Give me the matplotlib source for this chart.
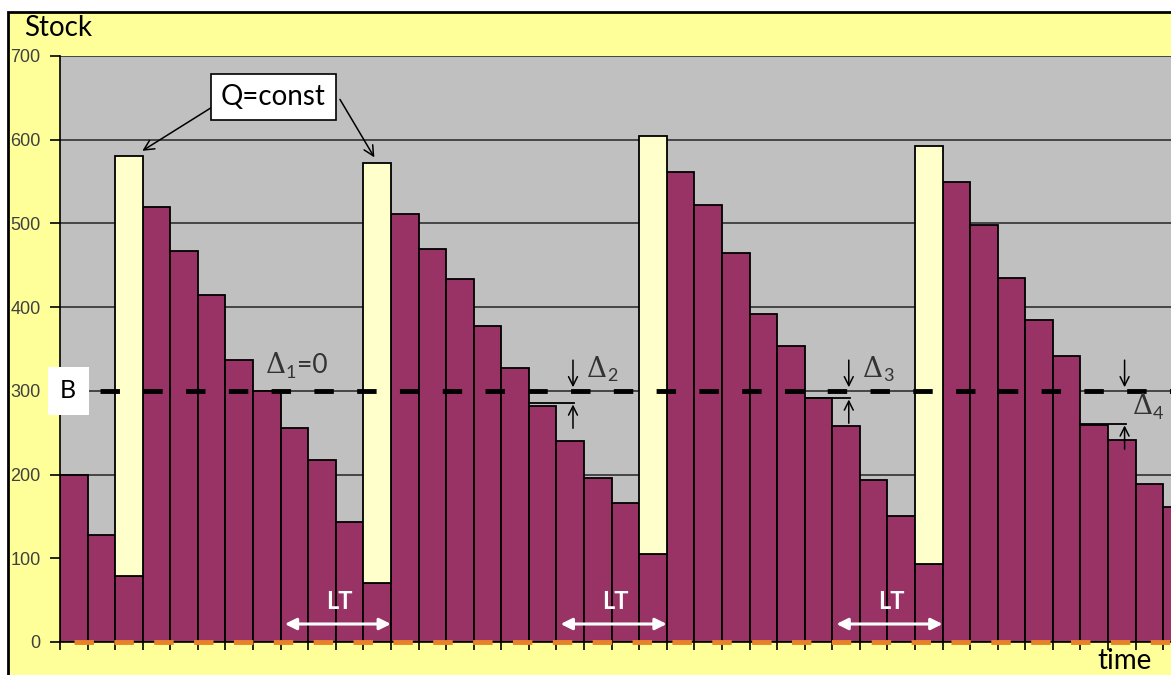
import numpy as np
import matplotlib.pyplot as plt
from matplotlib.patches import Rectangle

# stock level per period (maroon bars)
stock = [200, 128, 79, 520, 467, 414, 337, 300, 256, 217, 143,
         71, 511, 470, 434, 377, 327, 282, 240, 196, 166,
         105, 562, 522, 465, 392, 354, 291, 258, 194, 151,
         93, 549, 498, 435, 385, 342, 259, 241, 189, 161]
# periods where an order of size Q arrives (yellow part on top)
order_idx = [2, 11, 21, 31]
order_top = [581, 572, 605, 593]
base_level = 300  # B
# deltas: (period, level the bar ended at)
delta_idx = [17, 27, 37]
delta_level = [285, 291, 260]

W, H = 1171, 675
fig = plt.figure(figsize=(W / 100, H / 100), dpi=100, facecolor='white')
fig.patches.append(Rectangle((8 / W, -0.1), 1.2, 1.1 - 12 / H, transform=fig.transFigure,
                             facecolor='#FFFF99', edgecolor='black', lw=2, zorder=-10))

n = len(stock)
bw = 27.58
ax = fig.add_axes([60 / W, 33 / H, 41 * bw / W, 586 / H])
ax.set_facecolor('#C0C0C0')
x = np.arange(n)

ax.bar(x, stock, width=1, color='#993366', edgecolor='black', lw=1.3, zorder=2)
ax.bar(order_idx, np.array(order_top) - np.array([stock[i] for i in order_idx]),
       bottom=[stock[i] for i in order_idx], width=1, color='#FFFFCC',
       edgecolor='black', lw=1.3, zorder=2)

ax.set_xlim(-0.5, 40.5)
ax.set_ylim(0, 700)
ax.set_yticks(range(0, 701, 100))
ax.set_xticks(np.arange(-0.5, 41, 1))
ax.set_xticklabels([])
ax.yaxis.grid(True, color='#303030', lw=1.2, zorder=1)
ax.set_axisbelow(True)
ax.tick_params(axis='y', direction='out', length=7, width=1.2, labelsize=13,
               labelcolor='#404040', pad=7)
for lab in ax.get_yticklabels():
    lab.set_family('Liberation Sans')
ax.tick_params(axis='x', direction='out', length=6, width=1.2)
for s in ['top', 'right']:
    ax.spines[s].set_visible(False)
ax.spines['left'].set_linewidth(1.2)
ax.spines['bottom'].set_linewidth(1.2)

# base level B and the zero line
ax.plot([0.95, 41], [base_level, base_level], color='black', lw=3.5,
        dashes=(4, 4.8), zorder=5, clip_on=False)
ax.plot([0.0, 41], [0, 0], color='#E8822A', lw=3.5, dashes=(4, 4.2),
        zorder=5, clip_on=False)

font = 'Lato'
ax.text(-0.2, base_level, 'B', fontsize=18, family=font, ha='center', va='center',
        bbox=dict(boxstyle='square,pad=0.5', fc='white', ec='none'), zorder=6)

# Q=const box with arrows
ax.text(7.24, 651, 'Q=const', fontsize=20, family=font, ha='center', va='center',
        bbox=dict(boxstyle='square,pad=0.35', fc='white', ec='black', lw=1.2), zorder=7)
ax.annotate('', xy=(order_idx[0] + 0.4, order_top[0] + 4), xytext=(5.6, 651),
            arrowprops=dict(arrowstyle='->', lw=1.1, color='black', mutation_scale=18), zorder=6)
ax.annotate('', xy=(order_idx[1] - 0.05, order_top[1] + 4), xytext=(9.6, 651),
            arrowprops=dict(arrowstyle='->', lw=1.1, color='black', mutation_scale=18), zorder=6)


def delta_label(xd, yd, sub, tail=''):
    # serif delta, small sans subscript, optional text after
    c = '#333333'
    ax.annotate('\u0394', (xd, yd), fontsize=20, family='DejaVu Serif', color=c,
                ha='left', va='center', zorder=6)
    ax.annotate(sub, (xd, yd), xytext=(14.5, -5), textcoords='offset points', fontsize=13,
                family=font, color=c, ha='left', va='center', zorder=6)
    if tail:
        ax.annotate(tail, (xd, yd), xytext=(22.5, 0), textcoords='offset points', fontsize=19,
                    family=font, color=c, ha='left', va='center', zorder=6)


# deltas
delta_label(6.95, 330, '1', '=0')
arw = dict(arrowstyle='->', lw=1.1, color='black', mutation_scale=16)
lab_pos = [(18.6, 326), (28.6, 326), (38.4, 281)]
for k, (i, lev) in enumerate(zip(delta_idx, delta_level)):
    xa = i + 1.1
    ax.plot([i - 0.5, xa + 0.05], [lev, lev], color='black', lw=1.3, zorder=6)
    ax.annotate('', xy=(xa, base_level + 1), xytext=(xa, base_level + 40),
                arrowprops=arw, zorder=6)
    ax.annotate('', xy=(xa, lev + 2), xytext=(xa, lev - 33), arrowprops=arw, zorder=6)
    delta_label(lab_pos[k][0], lab_pos[k][1], str(k + 2))

# lead time arrows
for j in order_idx[1:]:
    ax.annotate('', xy=(j + 0.6, 21.5), xytext=(j - 3.45, 21.5),
                arrowprops=dict(arrowstyle='<|-|>', lw=2.2, color='white', mutation_scale=17),
                zorder=6)
    ax.text(j - 1.37, 48, 'LT', fontsize=17, fontweight='bold', color='white',
            family=font, ha='center', va='center', zorder=6)

fig.text(24 / W, 1 - 28 / H, 'Stock', fontsize=20, family=font, ha='left', va='center')
fig.text(1097 / W, 1 - 661 / H, 'time', fontsize=20, family=font, ha='left', va='center')

fig.savefig('out.png', dpi=100)
